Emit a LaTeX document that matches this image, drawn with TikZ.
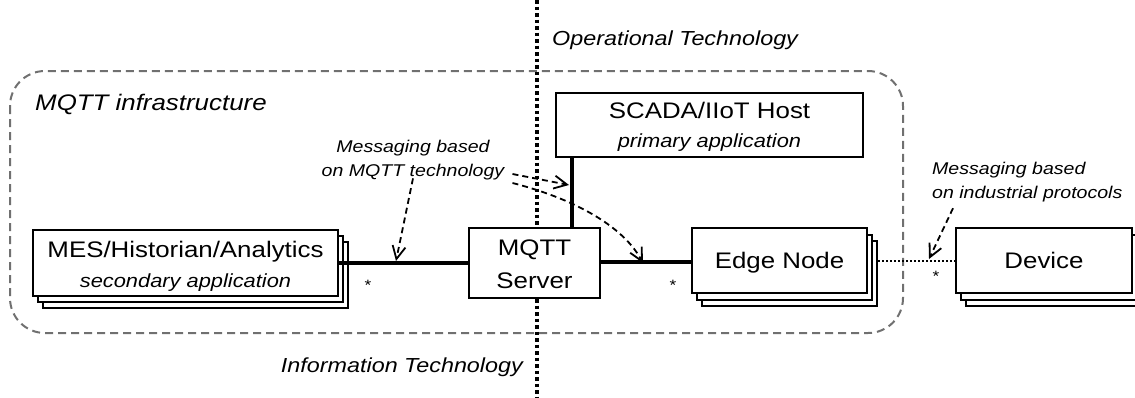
\documentclass[tikz,border=0pt]{standalone}
\usepackage{fontspec}
\setmainfont{Liberation Sans}[FakeStretch=1.15]
\usetikzlibrary{arrows.meta}
\definecolor{infragray}{HTML}{707070}
\begin{document}
\begin{tikzpicture}[x=1pt,y=-1pt,
  box/.style={draw=black, line width=2pt, fill=white, inner sep=0pt},
  txt/.style={inner sep=0pt, anchor=base},
  maintxt/.style={txt, font=\fontsize{22.5}{27}\selectfont},
  subtxt/.style={txt, font=\fontsize{19}{23}\selectfont\itshape},
  notetxt/.style={inner sep=0pt, font=\fontsize{17}{24.5}\selectfont\itshape},
  startxt/.style={txt, font=\fontsize{15}{18}\selectfont},
  thickline/.style={line width=4pt},
  noteArrow/.style={line width=1.8pt, dash pattern=on 6pt off 4pt, -{Straight Barb[length=13pt,width=13pt]}},
]
\useasboundingbox (0,0) rectangle (1135,397);
% infrastructure frame
\draw[infragray, line width=2pt, dash pattern=on 8pt off 5pt, rounded corners=35pt] (10,71) rectangle (903,333);
% OT / IT separator
\draw[line width=3.5pt, dash pattern=on 3.5pt off 3pt] (537,0) -- (537,397);
\node[txt, anchor=base west, font=\fontsize{22.5}{27}\selectfont\itshape] (infra) at (35,110) {MQTT infrastructure};
\node[txt, anchor=base west, font=\fontsize{20.3}{24}\selectfont\itshape] (ot) at (552,45) {Operational Technology};
\node[txt, anchor=base east, font=\fontsize{20.3}{24}\selectfont\itshape] (it) at (523,372) {Information Technology};

% MES stack
\node[box, minimum width=305pt, minimum height=66pt] (mes2) at (195.5,275) {};
\node[box, minimum width=305pt, minimum height=66pt] (mes1) at (190.5,269) {};
\node[box, minimum width=305pt, minimum height=66pt] (mes) at (185.5,263) {};
\node[maintxt] (mest) at (185.5,257) {MES/Historian/Analytics};
\node[subtxt] (mess) at (185.5,287) {secondary application};

% MQTT server
\node[box, minimum width=131pt, minimum height=70pt] (mqtt) at (534.5,263) {};
\node[maintxt] (mqtt1) at (534.5,255) {MQTT};
\node[maintxt] (mqtt2) at (534.5,288) {Server};

% SCADA
\node[box, minimum width=307pt, minimum height=64pt] (scada) at (709.5,125) {};
\node[maintxt] (scadat) at (709.5,118) {SCADA/IIoT Host};
\node[subtxt] (scadas) at (709.5,147) {primary application};

% Edge node stack
\node[box, minimum width=175pt, minimum height=65pt] (edge2) at (789.5,273.5) {};
\node[box, minimum width=175pt, minimum height=65pt] (edge1) at (784.5,267) {};
\node[box, minimum width=175pt, minimum height=65pt] (edge) at (779.5,260.5) {};
\node[maintxt] (edget) at (779.5,268) {Edge Node};

% Device stack
\node[box, minimum width=176pt, minimum height=65pt] (dev2) at (1054,273.5) {};
\node[box, minimum width=176pt, minimum height=65pt] (dev1) at (1049,267) {};
\node[box, minimum width=176pt, minimum height=65pt] (dev) at (1044,260.5) {};
\node[maintxt] (devt) at (1044,268) {Device};

% connectors
\draw[thickline] (mes.east) -- (mqtt.west);
\draw[thickline] ([yshift=1.5pt]mqtt.east) -- ([yshift=1.5pt]mqtt.east -| edge.west);
\coordinate (v) at (571.5,0);
\draw[thickline] (scada.south -| v) -- (mqtt.north -| v);
\draw[line width=2pt, dash pattern=on 2pt off 2pt] (edge2.east |- dev.west) -- (dev.west);

% multiplicities
\node[startxt] (s1) at (368,290) {*};
\node[startxt] (s2) at (673,290) {*};
\node[startxt] (s3) at (936,281) {*};

% annotations
\node[notetxt, align=center] (n1) at (413,160) {Messaging based\\on MQTT technology};
\node[notetxt, align=left, anchor=north west] (n2) at (932,161.5) {Messaging based\\on industrial protocols};
\coordinate (a1) at (396,261);
\coordinate (a2) at (569,185);
\coordinate (a3) at (643,263);
\coordinate (a4) at (929,259);
\draw[noteArrow] ([yshift=2pt]n1.south) -- (a1);
\draw[noteArrow] ([shift={(8,14)}]n1.east) -- (a2);
\draw[noteArrow] ([shift={(8,23)}]n1.east) .. controls (560,195) and (620,220) .. (a3);
\draw[noteArrow] ([shift={(21,6)}]n2.south west) -- (a4);
\end{tikzpicture}
\end{document}
